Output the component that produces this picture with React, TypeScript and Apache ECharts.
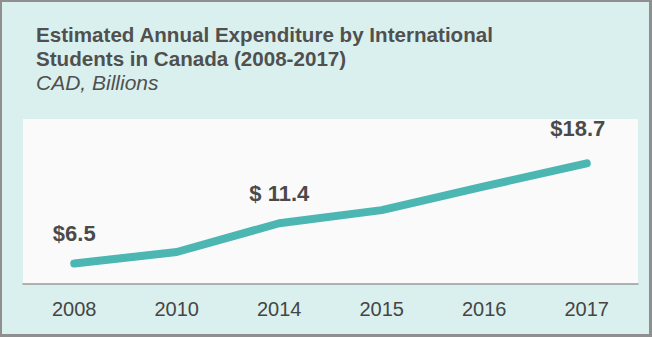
import React, { useEffect, useRef } from "react";
import * as echarts from "echarts";

const years = ["2008", "2010", "2014", "2015", "2016", "2017"];
const spending = [6.5, 7.9, 11.4, 13.0, 15.9, 18.7];
const valueLabels = ["$6.5", "", "$ 11.4", "", "", "$18.7"];
const titleLines = ["Estimated Annual Expenditure by International", "Students in Canada (2008-2017)"];
const subtitle = "CAD, Billions";

export default function App() {
  const ref = useRef<HTMLDivElement>(null);
  useEffect(() => {
    document.body.style.margin = "0";
    const chart = echarts.init(ref.current!, undefined, { renderer: "svg" });
    chart.setOption({
      animation: false,
      backgroundColor: "#daf0ee",
      title: {
        text: titleLines.join("\n"),
        subtext: subtitle,
        left: 31,
        top: 17,
        itemGap: 0,
        textStyle: {
          fontFamily: "Liberation Sans",
          fontSize: 20.6,
          fontWeight: "bold",
          color: "#505050",
          lineHeight: 24,
        },
        subtextStyle: {
          fontFamily: "Liberation Sans",
          fontSize: 21,
          fontStyle: "italic",
          color: "#505050",
          lineHeight: 24,
        },
      },
      grid: {
        left: 23,
        right: 14,
        top: 119,
        bottom: 53,
        show: true,
        backgroundColor: "#fafafa",
        borderWidth: 0,
      },
      xAxis: {
        type: "category",
        data: years,
        boundaryGap: true,
        axisLine: { lineStyle: { color: "#9a9a9a", width: 1.5 } },
        axisTick: { show: false },
        axisLabel: {
          margin: 15,
          fontFamily: "Liberation Sans",
          fontSize: 20,
          color: "#454545",
        },
      },
      yAxis: {
        type: "value",
        min: 4,
        max: 24.1,
        show: false,
        splitLine: { show: false },
      },
      series: [
        {
          type: "line",
          data: spending,
          symbol: "circle",
          symbolSize: 4,
          showSymbol: true,
          itemStyle: { color: "#4bb6b2" },
          lineStyle: { color: "#4bb6b2", width: 8, cap: "round", join: "round" },
          labelLayout: (p: any) =>
            p.dataIndex === 5 ? { dx: -9, dy: -6, hideOverlap: false } : { dy: -1, hideOverlap: false },
          label: {
            show: true,
            formatter: (p: any) => valueLabels[p.dataIndex],
            position: "top",
            distance: 16,
            fontFamily: "Liberation Sans",
            fontSize: 22,
            fontWeight: "bold",
            color: "#4a4a4a",
          },
        },
      ],
    });
    return () => chart.dispose();
  }, []);
  return (
    <div style={{ position: "absolute", left: 0, top: 0, width: 652, height: 337 }}>
      <div ref={ref} style={{ position: "absolute", left: 0, top: 0, width: 652, height: 337 }} />
      <div
        style={{
          position: "absolute",
          left: 0,
          top: 0,
          width: 652,
          height: 337,
          boxSizing: "border-box",
          border: "2px solid #8f8f8f",
          borderBottomWidth: 3,
          borderRightWidth: 3,
          pointerEvents: "none",
        }}
      />
    </div>
  );
}
